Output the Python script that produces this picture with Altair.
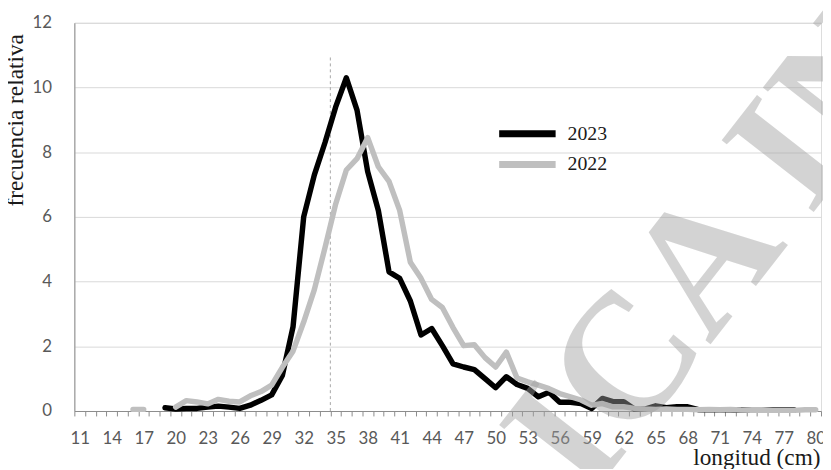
import altair as alt
import pandas as pd

# ---- data ----
LENGTHS_2023 = list(range(19, 79))
FREQ_2023 = [0.10, 0.06, 0.08, 0.08, 0.12, 0.15, 0.12, 0.08, 0.18, 0.33,
             0.50, 1.10, 2.60, 6.00, 7.30, 8.30, 9.40, 10.30, 9.30, 7.40,
             6.20, 4.30, 4.10, 3.40, 2.35, 2.55, 2.02, 1.46, 1.36, 1.28,
             1.00, 0.72, 1.06, 0.82, 0.70, 0.44, 0.58, 0.27, 0.27, 0.23,
             0.08, 0.39, 0.29, 0.29, 0.06, 0.06, 0.16, 0.10, 0.13, 0.13,
             0.04, 0.04, 0.04, 0.04, 0.03, 0.02, 0.02, 0.03, 0.03, 0.03]

LENGTHS_2022 = list(range(16, 81))
FREQ_2022 = [0.05, 0.05, None, None, 0.12, 0.32, 0.28, 0.22, 0.36, 0.30,
             0.28, 0.47, 0.60, 0.80, 1.35, 1.85, 2.75, 3.75, 5.05, 6.40,
             7.45, 7.80, 8.45, 7.55, 7.10, 6.20, 4.60, 4.10, 3.45, 3.20,
             2.58, 2.02, 2.05, 1.65, 1.36, 1.82, 1.02, 0.90, 0.80, 0.69,
             0.54, 0.44, 0.34, 0.18, 0.23, 0.13, 0.13, 0.08, 0.06, 0.05,
             0.06, 0.05, 0.05, 0.04, 0.05, 0.04, 0.05, 0.03, 0.02, 0.02,
             0.02, 0.02, 0.02, 0.04, 0.04]

SERIES = ["2023", "2022"]
COLORS = ["#000000", "#bfbfbf"]

Y_TICKS = [0, 2, 4, 6, 8, 10, 12]

REF_LENGTH = 34.5   # dashed reference line (boundary before 35 cm)
REF_TOP = 11

WATERMARK_TEXT = "ICA INI"
WATERMARK_X = 58.6
WATERMARK_Y = -2.8

# ---- build tables ----
rows = []
for c, v in zip(LENGTHS_2023, FREQ_2023):
    rows.append({"longitud": c, "freq": v, "serie": "2023", "seg": 0})
seg = 0
for c, v in zip(LENGTHS_2022, FREQ_2022):
    if v is None:
        seg += 1
        continue
    rows.append({"longitud": c, "freq": v, "serie": "2022", "seg": seg})
df = pd.DataFrame(rows)

W, H = 754, 392
n_cat = 70
half_band = W / n_cat / 2

x_scale = alt.Scale(domain=[10.5, 80.5], nice=False, zero=False)
y_scale = alt.Scale(domain=[0, 12], nice=False, zero=True)

label_expr = ("(datum.value + 0.5 - 11) % 3 == 0 && datum.value < 80 ? "
              "toString(datum.value + 0.5) : ''")

x_axis = alt.Axis(
    values=[v + 0.5 for v in range(10, 81)],
    labelExpr=label_expr, labelOffset=half_band, labelOverlap=False,
    labelFlush=False, labelFont="Lato", labelFontSize=17, labelColor="#595959",
    labelPadding=15, ticks=True, tickSize=5, tickColor="#8c8c8c",
    domain=True, domainColor="#8c8c8c",
    grid=False, title="longitud (cm)", titleFont="Liberation Serif",
    titleFontSize=23.5, titleFontWeight="normal", titleColor="#1a1a1a",
    titleAlign="right", titleBaseline="alphabetic", titleX=753, titleY=54,
)

y_axis = alt.Axis(
    values=Y_TICKS, ticks=False, labelFont="Lato", labelFontSize=17,
    labelColor="#595959", labelPadding=23, domain=True, domainColor="#8c8c8c",
    grid=True, gridColor="#d9d9d9", gridWidth=1,
    title="frecuencia relativa", titleFont="Liberation Serif",
    titleFontSize=23.5, titleFontWeight="normal", titleColor="#1a1a1a",
    titleAngle=270, titleAlign="center", titleBaseline="alphabetic",
    titleX=-52, titleY=98,
)

color = alt.Color(
    "serie:N",
    scale=alt.Scale(domain=SERIES, range=COLORS),
    legend=alt.Legend(
        title=None, orient="none", legendX=447.5, legendY=102,
        symbolType="M-5.7,0H5.7", symbolSize=100, symbolStrokeWidth=7,
        labelFont="Liberation Serif", labelFontSize=20, labelColor="#1a1a1a",
        labelOffset=30.5, padding=0, rowPadding=3,
    ),
)

X = alt.X("longitud:Q", scale=x_scale, axis=x_axis)
Y = alt.Y("freq:Q", scale=y_scale, axis=y_axis)

base = alt.Chart(df)

line_2023 = base.transform_filter(alt.datum.serie == "2023").mark_line(
    strokeWidth=5.5, strokeJoin="round", strokeCap="round"
).encode(x=X, y=Y, color=color, detail="seg:N")

line_2022 = base.transform_filter(alt.datum.serie == "2022").mark_line(
    strokeWidth=5.5, strokeJoin="round", strokeCap="round"
).encode(x=X, y=Y, color=color, detail="seg:N")

rule_df = pd.DataFrame({"longitud": [REF_LENGTH], "freq": [0], "y2": [REF_TOP]})
rule = alt.Chart(rule_df).mark_rule(
    color="#a6a6a6", strokeDash=[3, 3], strokeWidth=1
).encode(x=X, y=Y, y2="y2:Q")

wm_df = pd.DataFrame({"t": [WATERMARK_TEXT], "longitud": [WATERMARK_X],
                      "freq": [WATERMARK_Y]})
watermark = alt.Chart(wm_df).mark_text(
    angle=308, fontSize=180, font="Liberation Serif", fontWeight="bold",
    align="left", baseline="alphabetic", color="#a0a0a0", opacity=0.45,
).encode(x=X, y=Y, text="t:N")

chart = alt.layer(rule, line_2023, line_2022, watermark).properties(
    width=W, height=H,
    autosize=alt.AutoSizeParams(type="none"),
    padding={"left": 67, "top": 12.7, "right": 2, "bottom": 56},
).configure_view(stroke=None).configure(background="white")

chart.save("out.html", embed_options={"renderer": "svg", "actions": False})
